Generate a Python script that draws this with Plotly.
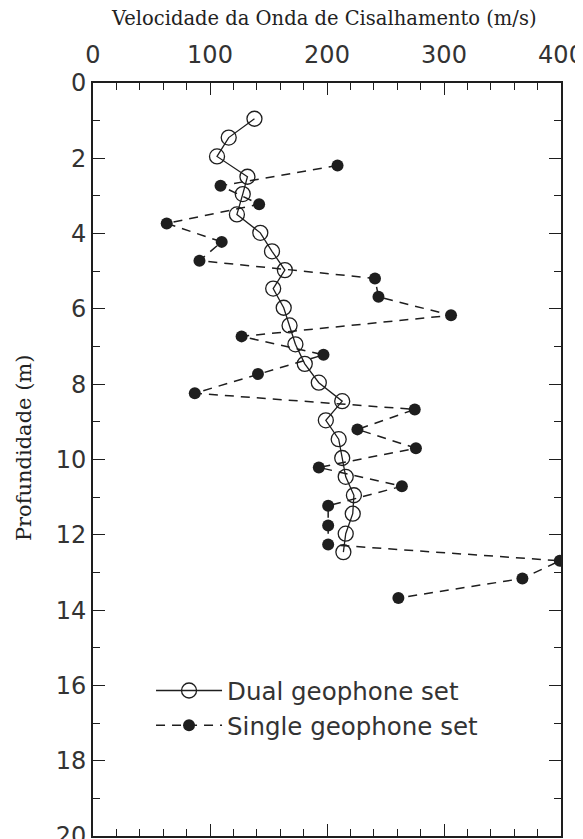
import plotly.graph_objects as go

# Dual geophone set (open circles)
dual_velocity = [138, 116, 106, 132, 128, 123, 143, 153, 164, 154, 163, 168, 173,
                 181, 193, 213, 199, 210, 213, 216, 223, 222, 216, 214]
dual_depth = [0.95, 1.45, 1.95, 2.49, 2.95, 3.49, 3.98, 4.47, 4.97, 5.46, 5.97, 6.44, 6.94,
              7.46, 7.96, 8.45, 8.96, 9.46, 9.96, 10.46, 10.95, 11.44, 11.97, 12.46]

# Single geophone set (filled circles)
single_velocity = [209, 109, 142, 63, 110, 91, 241, 244, 306, 127, 197, 141, 87,
                   275, 226, 276, 193, 264, 201, 201, 201, 399, 367, 261]
single_depth = [2.19, 2.73, 3.22, 3.73, 4.22, 4.72, 5.19, 5.68, 6.17, 6.73, 7.22, 7.73, 8.24,
                8.67, 9.20, 9.70, 10.21, 10.71, 11.23, 11.75, 12.26, 12.69, 13.16, 13.68]

x_ticks = [0, 100, 200, 300, 400]
y_ticks = [0, 2, 4, 6, 8, 10, 12, 14, 16, 18, 20]

ink = "#1e1e1e"
sans = "DejaVu Sans, sans-serif"
serif = "DejaVu Serif, serif"

fig = go.Figure()
fig.add_trace(go.Scatter(
    x=dual_velocity, y=dual_depth, mode="lines+markers",
    name="Dual geophone set",
    line=dict(color=ink, width=1.3),
    marker=dict(symbol="circle-open", size=15, color=ink, line=dict(width=1.3, color=ink)),
))
fig.add_trace(go.Scatter(
    x=single_velocity, y=single_depth, mode="lines+markers",
    name="Single geophone set",
    line=dict(color=ink, width=1.5, dash="9px,7px"),
    marker=dict(symbol="circle", size=12, color=ink),
))

fig.update_xaxes(
    side="top", range=[0, 400], tickvals=x_ticks, ticktext=[str(v) for v in x_ticks],
    ticks="inside", ticklen=12, tickwidth=1.3, tickcolor=ink,
    minor=dict(ticks="inside", dtick=20, ticklen=7, tickwidth=1.2, tickcolor=ink),
    showline=True, linecolor=ink, linewidth=1.8, mirror="allticks",
    showgrid=False, zeroline=False, automargin=False, ticklabelstandoff=9,
    ticklabeloverflow="allow",
    tickfont=dict(family=sans, size=24, color="#333"),
)
fig.update_yaxes(
    range=[20, 0], tickvals=y_ticks, ticktext=[str(v) for v in y_ticks],
    ticks="inside", ticklen=12, tickwidth=1.3, tickcolor=ink,
    minor=dict(ticks="inside", dtick=1, ticklen=7, tickwidth=1.2, tickcolor=ink),
    showline=True, linecolor=ink, linewidth=1.8, mirror="allticks",
    showgrid=False, zeroline=False, automargin=False, ticklabeloverflow="allow",
    tickfont=dict(family=sans, size=24, color="#333"),
)

fig.add_annotation(
    text="Velocidade da Onda de Cisalhamento (m/s)", xref="paper", yref="paper",
    x=0.494, y=1.086, showarrow=False, xanchor="center", yanchor="middle",
    font=dict(family=serif, size=19.5, color="#222"),
)
fig.add_annotation(
    text="Profundidade (m)", xref="paper", yref="paper",
    x=-0.146, y=0.516, showarrow=False, xanchor="center", yanchor="middle",
    textangle=-90, font=dict(family=serif, size=21, color="#222"),
)

# page body has an 8px default margin, so the figure is 8px smaller and margins shifted
fig.update_layout(
    width=575, height=831,
    margin=dict(l=85, r=22, t=75, b=3),
    plot_bgcolor="white", paper_bgcolor="white",
    showlegend=True,
    legend=dict(
        x=0.124, y=0.223, xanchor="left", yanchor="top",
        bgcolor="rgba(0,0,0,0)", font=dict(family=sans, size=24.5, color="#333"),
        itemwidth=66, tracegroupgap=0,
    ),
)

fig.write_html("out.html")
